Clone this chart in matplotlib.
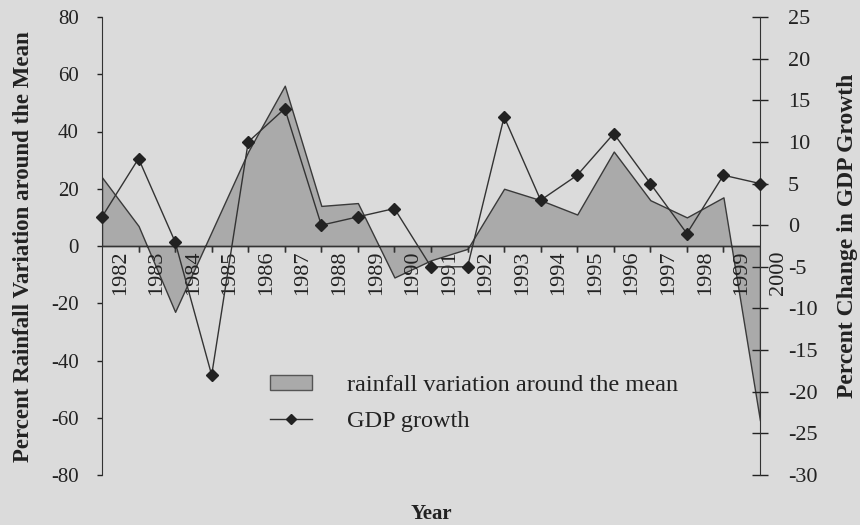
import matplotlib
matplotlib.use("Agg")
import matplotlib.pyplot as plt
from matplotlib.lines import Line2D
from matplotlib.patches import Patch

plt.rcParams["font.family"] = ["Liberation Serif", "DejaVu Serif"]
plt.rcParams["axes.unicode_minus"] = False

years = [str(y) for y in range(1982, 2001)]
# rainfall deviation from the long-run mean, percent
rainfall = [24, 7, -23, 5, 33, 56, 14, 15, -11, -5, -1, 20, 16, 11, 33, 16, 10, 17, -61]
# annual change in GDP growth, percent
gdp = [1, 8, -2, -18, 10, 14, 0, 1, 2, -5, -5, 13, 3, 6, 11, 5, -1, 6, 5]

rain_ticks = list(range(-80, 81, 20))
gdp_ticks = list(range(-30, 26, 5))

bg = "#dbdbdb"
ink = "#222222"
fig = plt.figure(figsize=(8.6, 5.25), dpi=100, facecolor=bg)
ax = fig.add_axes([102 / 860, 1 - 475 / 525, 658 / 860, 458 / 525])
ax.set_facecolor(bg)

x = list(range(len(rainfall)))
ax.fill_between(x, rainfall, 0, facecolor="#aaaaaa", edgecolor="#3a3a3a", linewidth=1.0, zorder=2)
ax.set_xlim(0, len(x) - 1)
ax.set_ylim(rain_ticks[0], rain_ticks[-1])
ax.set_yticks(rain_ticks)
ax.tick_params(axis="y", direction="out", length=3.6, width=1, pad=13, labelsize=15, colors=ink)
ax.set_xticks([])
for s in ("top", "bottom", "right"):
    ax.spines[s].set_visible(False)
ax.spines["left"].set_color("#333333")

# category axis drawn along the zero line
ax.axhline(0, color="#333333", linewidth=1.0, zorder=3)
for i in x[1:-1]:
    ax.plot([i, i], [0, 0], marker=3, markersize=4, color="#333333", zorder=3, clip_on=False)
for i, lab in enumerate(years):
    ax.annotate(lab, xy=(i + 0.5, 0), xytext=(0, -3), textcoords="offset points",
                rotation=90, ha="center", va="top", fontsize=16, color=ink,
                annotation_clip=False, zorder=4)

ax2 = ax.twinx()
ax2.plot(x, gdp, color="#333333", linewidth=1.0, marker="D", markersize=6,
         markerfacecolor=ink, markeredgecolor=ink, zorder=5, clip_on=False)
ax2.set_ylim(gdp_ticks[0], gdp_ticks[-1])
ax2.set_yticks(gdp_ticks)
ax2.tick_params(axis="y", direction="inout", length=12, width=1, pad=14, labelsize=16, colors=ink)
for s in ("top", "bottom", "left"):
    ax2.spines[s].set_visible(False)
ax2.spines["right"].set_color("#333333")

fig.text(24 / 860, 1 - 247 / 525, "Percent Rainfall Variation around the Mean", rotation=90,
         ha="center", va="center", fontsize=16.5, fontweight="bold", color=ink)
fig.text(847 / 860, 1 - 236 / 525, "Percent Change in GDP Growth", rotation=90,
         ha="center", va="center", fontsize=17, fontweight="bold", color=ink)
fig.text(431 / 860, 1 - 514 / 525, "Year", ha="center", va="center",
         fontsize=15, fontweight="bold", color=ink)

handles = [Patch(facecolor="#aaaaaa", edgecolor="#555555", linewidth=1.0),
           Line2D([], [], color="#333333", linewidth=1.0, marker="D", markersize=5,
                  markerfacecolor=ink, markeredgecolor=ink)]
ax2.legend(handles, ["rainfall variation around the mean", "GDP growth"],
           loc="upper left", bbox_to_anchor=(0.222, 0.266), frameon=False,
           fontsize=17.5, handlelength=1.75, handleheight=0.55, handletextpad=1.4,
           labelspacing=0.62, borderpad=0.4, labelcolor=ink)

fig.savefig("out.png", dpi=100, facecolor=bg)
